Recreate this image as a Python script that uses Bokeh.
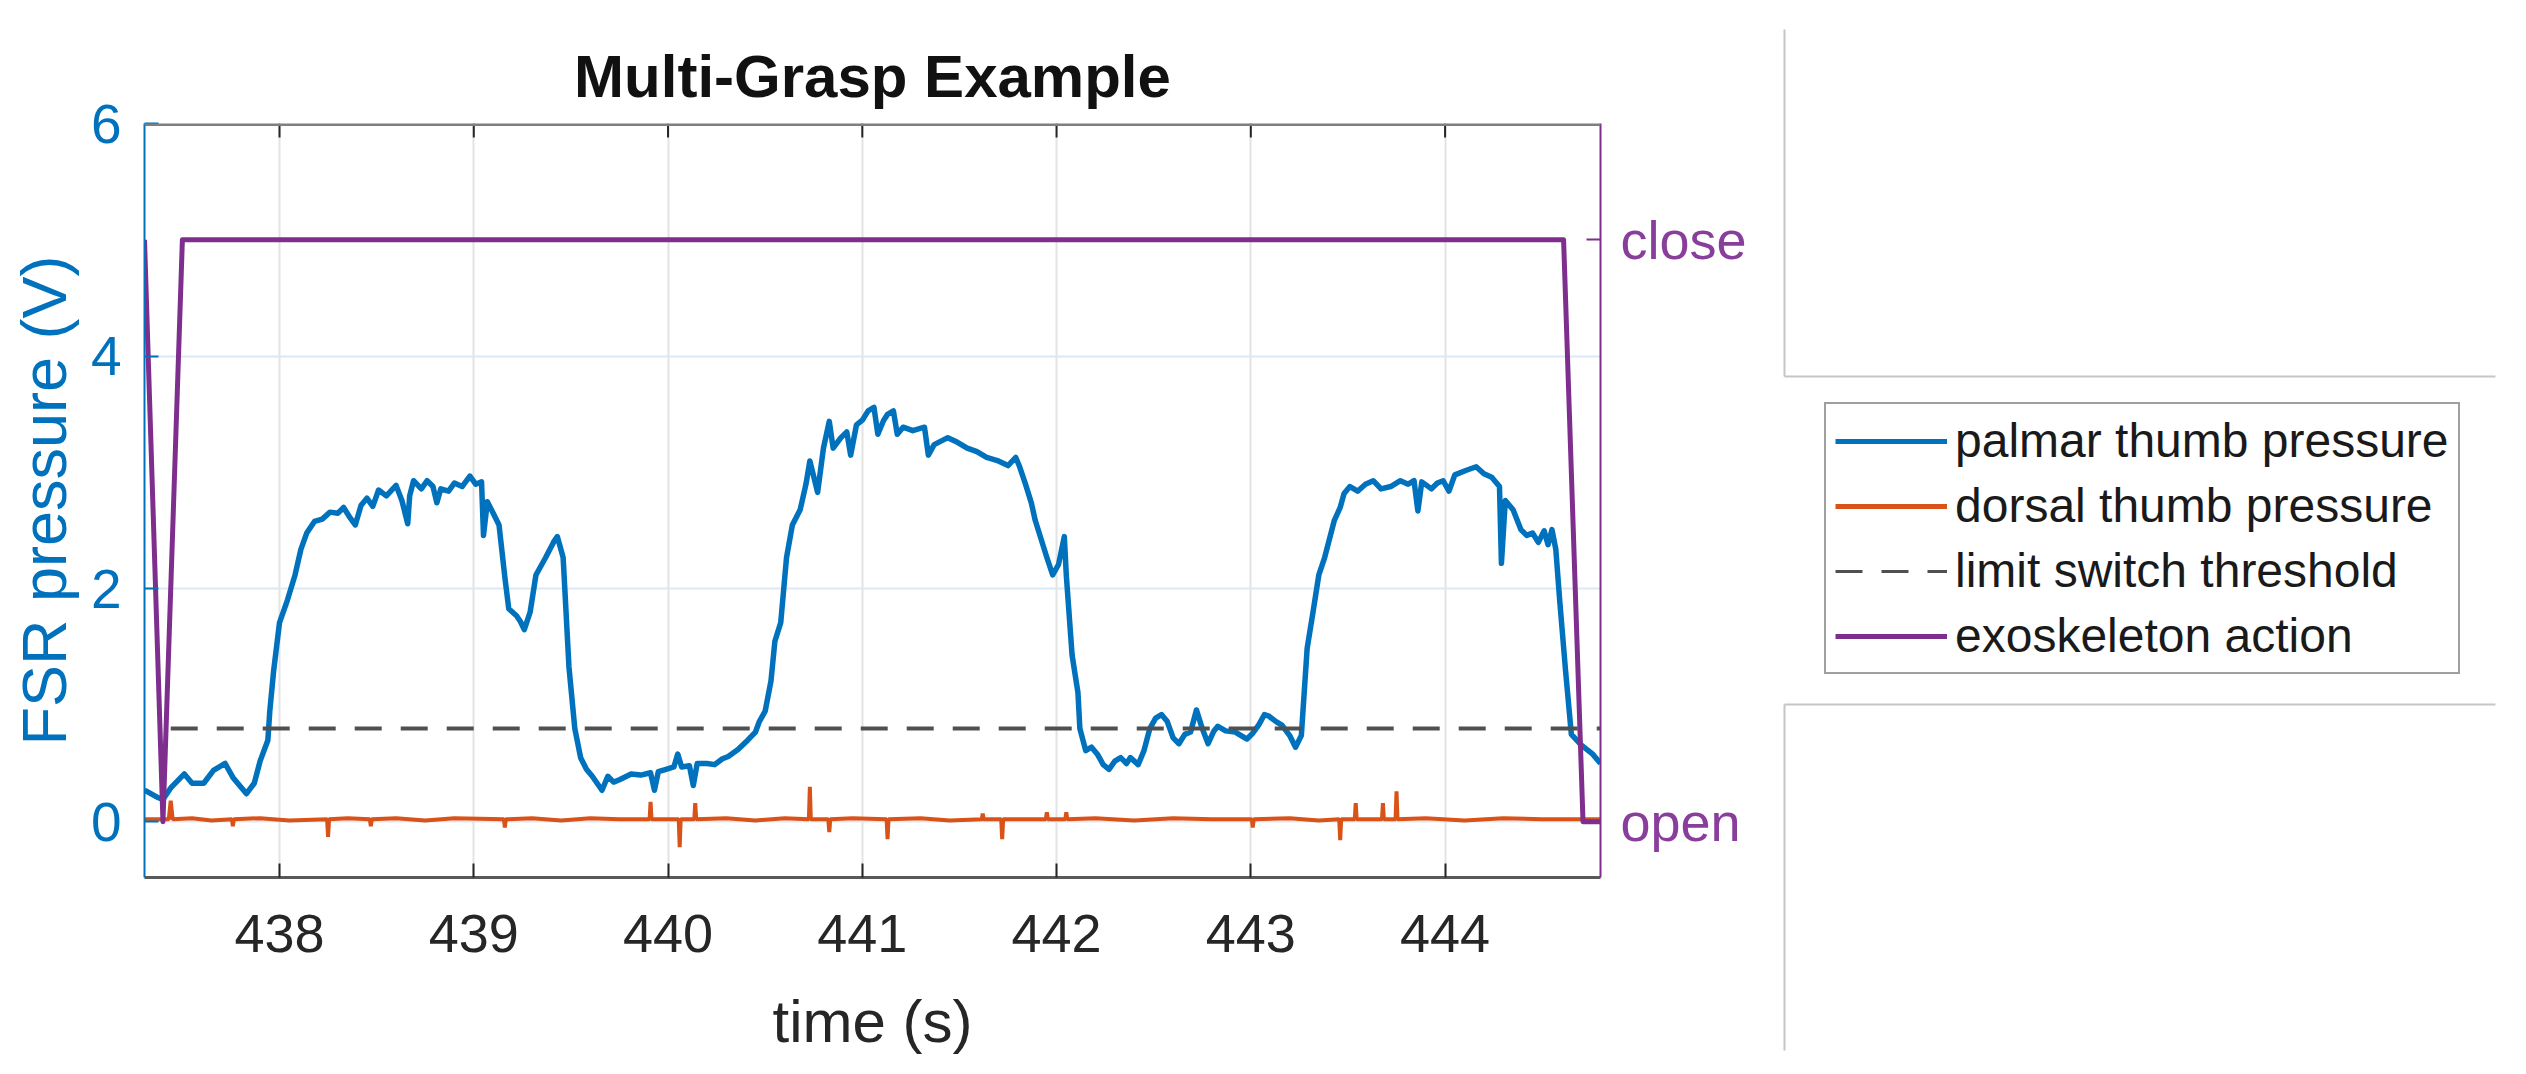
from bokeh.plotting import figure
from bokeh.layouts import row, column
from bokeh.models import (Range1d, LinearAxis, FixedTicker, Legend, LegendItem, Span)
from bokeh.embed import file_html
from bokeh.resources import INLINE

# ---------------- data ----------------
palmar_t = [437.305, 437.37, 437.40, 437.44, 437.51, 437.55, 437.61, 437.66, 437.72, 437.76,
            437.83, 437.87, 437.90, 437.94, 437.95, 437.97, 438.00, 438.04, 438.08, 438.11,
            438.14, 438.18, 438.22, 438.26, 438.30, 438.33, 438.36, 438.39, 438.42, 438.45,
            438.48, 438.51, 438.55, 438.60, 438.63, 438.66, 438.67, 438.69, 438.73, 438.76,
            438.79, 438.81, 438.83, 438.87, 438.90, 438.94, 438.98, 439.01, 439.04, 439.05,
            439.07, 439.10, 439.13, 439.16, 439.18, 439.22, 439.24, 439.26, 439.29, 439.32,
            439.37, 439.41, 439.43, 439.46, 439.49, 439.52, 439.55, 439.58, 439.61, 439.66,
            439.69, 439.72, 439.75, 439.81, 439.86, 439.91, 439.93, 439.95, 439.99, 440.03,
            440.05, 440.07, 440.11, 440.13, 440.15, 440.20, 440.24, 440.28, 440.31, 440.36,
            440.41, 440.45, 440.47, 440.50, 440.53, 440.55, 440.58, 440.61, 440.64, 440.68,
            440.71, 440.73, 440.77, 440.80, 440.83, 440.85, 440.89, 440.92, 440.94, 440.97,
            441.00, 441.03, 441.06, 441.08, 441.11, 441.13, 441.16, 441.18, 441.21, 441.26,
            441.32, 441.34, 441.37, 441.44, 441.49, 441.54, 441.59, 441.64, 441.70, 441.75,
            441.79, 441.81, 441.84, 441.87, 441.89, 441.95, 441.98, 442.01, 442.04, 442.05,
            442.08, 442.11, 442.12, 442.15, 442.18, 442.21, 442.24, 442.27, 442.30, 442.33,
            442.36, 442.38, 442.42, 442.45, 442.48, 442.51, 442.54, 442.57, 442.60, 442.63,
            442.66, 442.69, 442.72, 442.75, 442.78, 442.81, 442.83, 442.87, 442.92, 442.95,
            442.98, 443.01, 443.04, 443.07, 443.09, 443.13, 443.16, 443.20, 443.23, 443.26,
            443.29, 443.32, 443.35, 443.38, 443.43, 443.46, 443.48, 443.51, 443.55, 443.59,
            443.63, 443.67, 443.72, 443.77, 443.81, 443.84, 443.86, 443.88, 443.93, 443.96,
            443.99, 444.02, 444.05, 444.11, 444.16, 444.20, 444.24, 444.28, 444.29, 444.31,
            444.35, 444.39, 444.42, 444.45, 444.48, 444.51, 444.53, 444.55, 444.57, 444.59,
            444.62, 444.65, 444.70, 444.76, 444.80]
palmar_v = [0.27, 0.21, 0.19, 0.29, 0.41, 0.33, 0.33, 0.44, 0.50, 0.38,
            0.24, 0.33, 0.52, 0.70, 0.95, 1.30, 1.71, 1.90, 2.12, 2.34,
            2.48, 2.58, 2.60, 2.66, 2.65, 2.70, 2.62, 2.55, 2.72, 2.78,
            2.71, 2.85, 2.80, 2.89, 2.76, 2.56, 2.80, 2.93, 2.86, 2.93,
            2.88, 2.74, 2.86, 2.84, 2.91, 2.88, 2.97, 2.90, 2.92, 2.46,
            2.75, 2.65, 2.55, 2.10, 1.83, 1.77, 1.72, 1.65, 1.80, 2.12,
            2.27, 2.40, 2.45, 2.27, 1.33, 0.80, 0.55, 0.45, 0.39, 0.27,
            0.39, 0.34, 0.36, 0.41, 0.40, 0.42, 0.27, 0.43, 0.45, 0.47,
            0.58, 0.47, 0.48, 0.31, 0.50, 0.50, 0.49, 0.54, 0.56, 0.62,
            0.70, 0.77, 0.86, 0.95, 1.21, 1.55, 1.71, 2.27, 2.55, 2.68,
            2.90, 3.10, 2.83, 3.21, 3.44, 3.21, 3.30, 3.35, 3.15, 3.41,
            3.45, 3.53, 3.56, 3.33, 3.45, 3.50, 3.53, 3.33, 3.39, 3.36,
            3.39, 3.15, 3.24, 3.30, 3.26, 3.21, 3.18, 3.13, 3.10, 3.06,
            3.13, 3.05, 2.90, 2.74, 2.59, 2.27, 2.12, 2.21, 2.45, 2.12,
            1.43, 1.11, 0.80, 0.61, 0.64, 0.58, 0.49, 0.45, 0.52, 0.55,
            0.50, 0.55, 0.49, 0.61, 0.80, 0.89, 0.92, 0.86, 0.72, 0.67,
            0.75, 0.77, 0.96, 0.80, 0.67, 0.78, 0.82, 0.78, 0.77, 0.74,
            0.71, 0.76, 0.83, 0.92, 0.91, 0.86, 0.83, 0.74, 0.64, 0.74,
            1.49, 1.80, 2.12, 2.27, 2.59, 2.70, 2.82, 2.88, 2.84, 2.90,
            2.93, 2.86, 2.88, 2.93, 2.90, 2.93, 2.67, 2.92, 2.86, 2.91,
            2.93, 2.84, 2.98, 3.02, 3.05, 2.99, 2.96, 2.88, 2.22, 2.76,
            2.68, 2.51, 2.46, 2.48, 2.40, 2.50, 2.38, 2.51, 2.34, 1.90,
            1.30, 0.75, 0.66, 0.58, 0.50]

dorsal_t = [437.305, 437.38, 437.43, 437.44, 437.45, 437.55, 437.65, 437.755, 437.76, 437.765,
            437.90, 438.05, 438.245, 438.25, 438.255, 438.35, 438.465, 438.47, 438.475, 438.60,
            438.75, 438.90, 439.155, 439.16, 439.165, 439.30, 439.45, 439.60, 439.75, 439.905,
            439.91, 439.915, 440.055, 440.06, 440.065, 440.135, 440.14, 440.145, 440.30, 440.45,
            440.60, 440.725, 440.73, 440.735, 440.825, 440.83, 440.835, 440.95, 441.125, 441.13,
            441.135, 441.30, 441.45, 441.615, 441.62, 441.625, 441.715, 441.72, 441.725, 441.945,
            441.95, 441.955, 442.045, 442.05, 442.055, 442.20, 442.40, 442.60, 442.80, 443.005,
            443.01, 443.015, 443.20, 443.35, 443.455, 443.46, 443.465, 443.535, 443.54, 443.545,
            443.675, 443.68, 443.685, 443.745, 443.75, 443.755, 443.90, 444.10, 444.30, 444.50,
            444.80]
dorsal_v = [0.02, 0.02, 0.02, 0.18, 0.02, 0.03, 0.01, 0.02, -0.04, 0.02,
            0.03, 0.01, 0.02, -0.13, 0.02, 0.03, 0.02, -0.04, 0.02, 0.03,
            0.01, 0.03, 0.02, -0.05, 0.02, 0.03, 0.01, 0.03, 0.02, 0.02,
            0.17, 0.02, 0.02, -0.22, 0.02, 0.02, 0.16, 0.02, 0.03, 0.01,
            0.03, 0.02, 0.30, 0.02, 0.02, -0.09, 0.02, 0.03, 0.02, -0.15,
            0.02, 0.03, 0.01, 0.02, 0.07, 0.02, 0.02, -0.15, 0.02, 0.02,
            0.08, 0.02, 0.02, 0.08, 0.02, 0.03, 0.01, 0.03, 0.02, 0.02,
            -0.05, 0.02, 0.03, 0.01, 0.02, -0.16, 0.02, 0.02, 0.16, 0.02,
            0.02, 0.16, 0.02, 0.02, 0.26, 0.02, 0.03, 0.01, 0.03, 0.02,
            0.02]

threshold_t = [437.44, 444.80]
threshold_v = [0.8, 0.8]

exo_t = [437.305, 437.40, 437.50, 444.61, 444.71, 444.80]
exo_action = [1, 0, 1, 1, 0, 0]          # 1 = close, 0 = open

x_ticks = [438, 439, 440, 441, 442, 443, 444]
y_ticks = [0, 2, 4, 6]
exo_ticks = [0, 1]
exo_tick_labels = {0: "open", 1: "close"}
legend_labels = ["palmar thumb pressure", "dorsal thumb pressure",
                 "limit switch threshold", "exoskeleton action"]

# ---------------- styling ----------------
FONT = "Liberation Sans"
BLUE = "#0072BD"
ORANGE = "#D95319"
PURPLE = "#7E2F8E"
DARK = "#262626"
THRESH = "#505050"
EMPTY_AX = "#c6c6c6"
NAN = float("nan")

X_LO, X_HI = 437.305, 444.80
Y_LO, Y_HI = -0.48, 6.0

p = figure(frame_width=1456, frame_height=754,
           x_range=Range1d(X_LO, X_HI), y_range=Range1d(Y_LO, Y_HI),
           output_backend="svg", toolbar_location=None,
           min_border_left=144, min_border_top=123,
           min_border_right=160, min_border_bottom=186,
           title="Multi-Grasp Example")
p.extra_y_ranges = {"exo": Range1d(Y_LO / 5.0, Y_HI / 5.0)}
p.outline_line_color = None
p.background_fill_color = "white"
p.border_fill_color = "white"

p.title.text_font = FONT
p.title.text_font_size = "60px"
p.title.text_font_style = "bold"
p.title.text_color = "#111111"
p.title.align = "center"
p.title.standoff = 28

# bottom axis
xa = p.xaxis[0]
xa.ticker = FixedTicker(ticks=x_ticks)
xa.axis_label = "time (s)"
xa.axis_label_text_font = FONT
xa.axis_label_text_font_size = "60px"
xa.axis_label_text_font_style = "normal"
xa.axis_label_text_color = DARK
xa.axis_label_standoff = 33
xa.major_label_text_font = FONT
xa.major_label_text_font_size = "54px"
xa.major_label_text_color = DARK
xa.major_label_standoff = 37
xa.major_tick_in = 14
xa.major_tick_out = 0
xa.minor_tick_in = 0
xa.minor_tick_out = 0
xa.major_tick_line_color = DARK
xa.major_tick_line_width = 2
xa.axis_line_color = "#595959"
xa.axis_line_width = 3

# left axis
ya = p.yaxis[0]
ya.ticker = FixedTicker(ticks=y_ticks)
ya.axis_label = "FSR pressure (V)"
ya.axis_label_text_font = FONT
ya.axis_label_text_font_size = "63px"
ya.axis_label_text_font_style = "normal"
ya.axis_label_text_color = BLUE
ya.axis_label_standoff = 9
ya.major_label_text_font = FONT
ya.major_label_text_font_size = "55px"
ya.major_label_text_color = BLUE
ya.major_label_standoff = 23
ya.major_tick_in = 14
ya.major_tick_out = 0
ya.minor_tick_in = 0
ya.minor_tick_out = 0
ya.major_tick_line_color = BLUE
ya.major_tick_line_width = 2
ya.axis_line_color = BLUE
ya.axis_line_width = 2

# right axis (exoskeleton action)
right = LinearAxis(y_range_name="exo", ticker=FixedTicker(ticks=exo_ticks),
                   major_label_overrides=exo_tick_labels,
                   major_label_text_font=FONT, major_label_text_font_size="54px",
                   major_label_text_color="#8A3E9C", major_label_standoff=20,
                   major_tick_in=14, major_tick_out=0, minor_tick_in=0, minor_tick_out=0,
                   major_tick_line_color=PURPLE, major_tick_line_width=2,
                   axis_line_color=PURPLE, axis_line_width=2)
p.add_layout(right, "right")

# grids
p.xgrid.ticker = FixedTicker(ticks=x_ticks)
p.xgrid.grid_line_color = "#e3e3e3"
p.xgrid.grid_line_width = 2
p.ygrid.ticker = FixedTicker(ticks=y_ticks)
p.ygrid.grid_line_color = "#dbe8f5"
p.ygrid.grid_line_width = 2

# top edge of the axes box with inward ticks
p.add_layout(Span(location=Y_HI, dimension="width", line_color="#7f7f7f", line_width=5))
tick_len = 14 * (Y_HI - Y_LO) / 754.0
p.segment(x0=x_ticks, y0=[Y_HI] * len(x_ticks), x1=x_ticks,
          y1=[Y_HI - tick_len] * len(x_ticks), line_color=DARK, line_width=2)

# series
r_palmar = p.line(palmar_t, palmar_v, line_color=BLUE, line_width=5.5, line_join="round")
r_dorsal = p.line(dorsal_t, dorsal_v, line_color=ORANGE, line_width=4)
r_thresh = p.line(threshold_t, threshold_v, line_color=THRESH, line_width=4, line_dash="27 19")
r_exo = p.line(exo_t, exo_action, y_range_name="exo", line_color=PURPLE, line_width=5,
               line_join="round")

# ---------------- right-hand column: empty axes + legend ----------------
COL_W = 749

def empty_axes(x_loc, top_border, frame_h, bottom_border):
    f = figure(frame_width=711, frame_height=frame_h, output_backend="svg",
               toolbar_location=None, x_axis_location=x_loc, y_axis_location="left",
               x_range=Range1d(0, 1), y_range=Range1d(0, 1),
               min_border_left=24, min_border_right=14,
               min_border_top=top_border, min_border_bottom=bottom_border)
    f.outline_line_color = None
    f.grid.visible = False
    for ax in f.axis:
        ax.ticker = FixedTicker(ticks=[])
        ax.axis_line_color = EMPTY_AX
        ax.axis_line_width = 2
        ax.major_tick_in = 0
        ax.major_tick_out = 0
        ax.minor_tick_in = 0
        ax.minor_tick_out = 0
        ax.major_label_standoff = 0
    return f

f_top = empty_axes("below", 29, 347, 14)
f_bot = empty_axes("above", 14, 346, 10)

f_leg = figure(width=COL_W, height=300, output_backend="svg", toolbar_location=None,
               x_axis_location=None, y_axis_location=None,
               x_range=Range1d(0, 1), y_range=Range1d(0, 1),
               min_border_left=0, min_border_right=0, min_border_top=0, min_border_bottom=0)
f_leg.outline_line_color = None
f_leg.grid.visible = False
# legend-only renderers (no visible data; they carry the series' line styles)
l1 = f_leg.line([NAN, NAN], [NAN, NAN], line_color=BLUE, line_width=5)
l2 = f_leg.line([NAN, NAN], [NAN, NAN], line_color=ORANGE, line_width=5)
l3 = f_leg.line([NAN, NAN], [NAN, NAN], line_color=THRESH, line_width=3, line_dash="27 19")
l4 = f_leg.line([NAN, NAN], [NAN, NAN], line_color=PURPLE, line_width=5)
legend = Legend(items=[LegendItem(label=legend_labels[0], renderers=[l1]),
                       LegendItem(label=legend_labels[1], renderers=[l2]),
                       LegendItem(label=legend_labels[2], renderers=[l3]),
                       LegendItem(label=legend_labels[3], renderers=[l4])],
                location=(40, 16))
legend.label_text_font = FONT
legend.label_text_font_size = "48px"
legend.label_text_color = "#1a1a1a"
legend.glyph_width = 112
legend.glyph_height = 40
legend.label_standoff = 8
legend.padding = 9
legend.spacing = 10
legend.margin = 0
legend.border_line_color = "#404040"
legend.border_line_width = 2
legend.background_fill_color = "white"
legend.background_fill_alpha = 1
f_leg.add_layout(legend)

layout = row(p, column(f_top, f_leg, f_bot, spacing=0), spacing=0)

open("out.html", "w").write(file_html(layout, INLINE))
